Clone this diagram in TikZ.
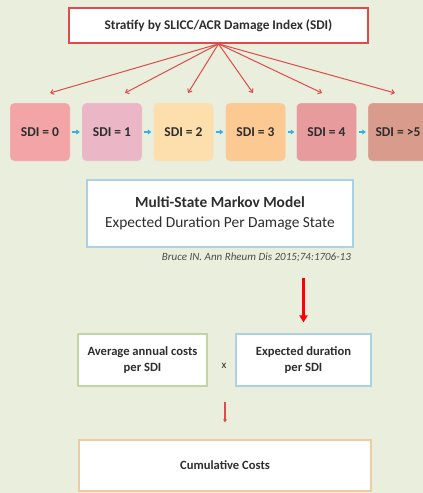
\documentclass[tikz,border=0pt]{standalone}
\usepackage{fontspec}
\setmainfont{Carlito}
\usetikzlibrary{arrows.meta}
\definecolor{bgcol}{HTML}{E9EEDD}
\definecolor{txt}{HTML}{2E2E2E}
\definecolor{redline}{HTML}{E04A4A}
\definecolor{blueline}{HTML}{A9D3E4}
\definecolor{greenline}{HTML}{C2D6A4}
\definecolor{orangeline}{HTML}{EDCBA3}
\definecolor{bluearrow}{HTML}{3AAEE6}
\definecolor{sdiA}{HTML}{F3A4A6}
\definecolor{sdiB}{HTML}{EBB7C6}
\definecolor{sdiC}{HTML}{FCDFAD}
\definecolor{sdiD}{HTML}{FBC991}
\definecolor{sdiE}{HTML}{E79B9C}
\definecolor{sdiF}{HTML}{D99B8B}
\tikzset{
  box/.style={draw, fill=white, line width=1.2pt, text=txt, align=center, inner sep=0pt},
  sdibox/.style={rounded corners=4pt, minimum width=60pt, minimum height=58pt, inner sep=0pt,
    text=txt, font=\fontsize{13.5}{15}\selectfont\bfseries, draw=black!8, line width=0.4pt},
  fan/.style={draw=redline, line width=1pt, -{Straight Barb[length=3pt,width=5pt]}},
  chain/.style={draw=bluearrow, line width=1.5pt, -{Triangle[length=3.5pt,width=5pt]}, shorten <=2pt, shorten >=2pt}
}
\begin{document}
\begin{tikzpicture}[x=1pt,y=-1pt]
  \fill[bgcol] (0,0) rectangle (423,493);
  \useasboundingbox (0,0) rectangle (423,493);

  % top box
  \node[box, draw=redline, line width=1.8pt, minimum width=299pt, minimum height=35pt,
        font=\fontsize{13.3}{15}\selectfont\bfseries] (top) at (218.5,25.5)
        {Stratify by SLICC/ACR Damage Index (SDI)};

  % damage states
  \node[sdibox, fill=sdiA] (s0) at (40,132) {SDI = 0};
  \node[sdibox, fill=sdiB] (s1) at (112,132) {SDI = 1};
  \node[sdibox, fill=sdiC] (s2) at (183.5,132) {SDI = 2};
  \node[sdibox, fill=sdiD] (s3) at (255.5,132) {SDI = 3};
  \node[sdibox, fill=sdiE] (s4) at (326.5,132) {SDI = 4};
  \node[sdibox, fill=sdiF] (s5) at (398,132) {SDI = >5};

  \foreach \a/\b in {s0/s1,s1/s2,s2/s3,s3/s4,s4/s5}
    \draw[chain] (\a.east) -- (\b.west);

  % fan of red lines
  \coordinate (t0) at (50,93);
  \coordinate (t1) at (125,93);
  \coordinate (t2) at (188,93);
  \coordinate (t3) at (253,93);
  \coordinate (t4) at (322,93);
  \coordinate (t5) at (395,93);
  \foreach \t in {t0,t1,t2,t3,t4,t5}
    \draw[fan] (top.south) -- (\t);

  % Markov model
  \node[box, draw=blueline, minimum width=266pt, minimum height=67pt,
        font=\fontsize{15.4}{20}\selectfont] (mm) at (220,213.5)
    {\textbf{Multi-State Markov Model}\\Expected Duration Per Damage State};
  \node[anchor=east, text=txt!85, font=\fontsize{11}{12}\selectfont\itshape, inner sep=0pt] (cite)
    at (351,257) {Bruce IN. Ann Rheum Dis 2015;74:1706-13};

  % cost boxes
  \node[box, draw=greenline, minimum width=129pt, minimum height=52pt,
        font=\fontsize{12.6}{16}\selectfont\bfseries] (avg) at (142.5,360)
        {Average annual costs\\per SDI};
  \node[box, draw=blueline, minimum width=135pt, minimum height=52pt,
        font=\fontsize{12.6}{16}\selectfont\bfseries] (ed) at (303.5,360)
        {Expected duration\\per SDI};
  \node[text=txt, font=\fontsize{11}{12}\selectfont] (times) at (224,366) {x};

  \coordinate (ra) at (303.5,278);
  \draw[draw=red, line width=2.2pt, -{Triangle[length=7pt,width=8pt]}, shorten >=11pt] (ra) -- (ed.north);

  \node[box, draw=orangeline, minimum width=292pt, minimum height=51pt,
        font=\fontsize{12.6}{15}\selectfont\bfseries] (cum) at (225,465.5) {Cumulative Costs};

  \coordinate (sa) at (225,402);
  \draw[draw=redline, line width=1.3pt, -{Triangle[length=3pt,width=3.5pt]}, shorten >=17pt] (sa) -- (cum.north);
\end{tikzpicture}
\end{document}
